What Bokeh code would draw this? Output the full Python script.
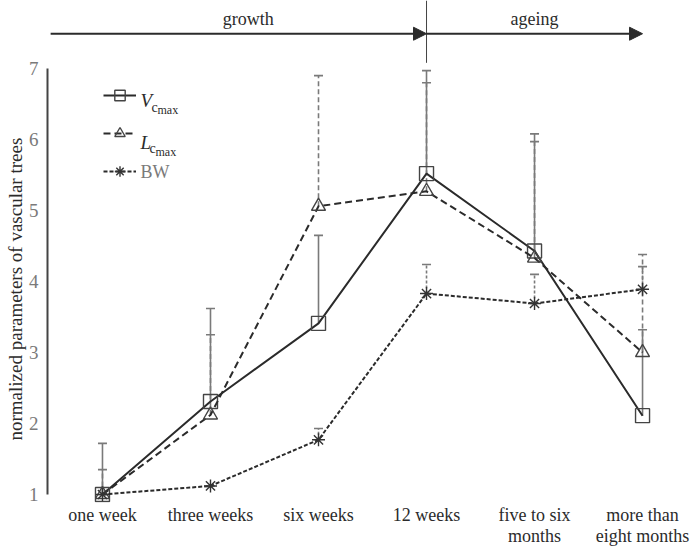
from bokeh.plotting import figure
from bokeh.models import (FixedTicker, Whisker, TeeHead, Legend, LegendItem, Label,
                          Arrow, NormalHead, Range1d, ColumnDataSource, Title)
from bokeh.embed import file_html
from bokeh.resources import INLINE

# ---------------- data ----------------
categories = ["one week", "three weeks", "six weeks", "12 weeks",
              "five to six\nmonths", "more than\neight months"]
xpos = [0, 1, 2, 3, 4, 5]
vcmax = [1.0, 2.31, 3.41, 5.52, 4.43, 2.11]
vcmax_upper = [1.72, 3.62, 4.65, 6.97, 6.08, 3.32]
lcmax = [1.0, 2.12, 5.06, 5.27, 4.33, 3.00]
lcmax_upper = [1.35, 3.25, 6.90, 6.80, 5.97, 4.38]
bw = [1.0, 1.12, 1.77, 3.83, 3.69, 3.89]
bw_upper = [1.0, 1.12, 1.93, 4.24, 4.10, 4.21]
yticks = [1, 2, 3, 4, 5, 6, 7]
phase_labels = ["growth", "ageing"]
y_title = "normalized parameters of vascular trees"

FONT = "'Liberation Serif', 'Times New Roman', serif"
DARK = "#2b2b2b"
GREY = "#7a7a7a"

p = figure(width=694, height=548, output_backend="svg", toolbar_location=None,
           x_range=Range1d(-0.509, 5.481), y_range=Range1d(0.887, 7.958),
           min_border_top=0, min_border_left=47, min_border_right=0, min_border_bottom=0)
p.outline_line_color = None
p.grid.visible = False
p.background_fill_color = "white"

# axes
p.xaxis.ticker = FixedTicker(ticks=xpos)
p.xaxis.major_label_overrides = {x: c for x, c in zip(xpos, categories)}
p.xaxis.axis_line_color = None
p.xaxis.major_tick_line_color = None
p.xaxis.minor_tick_line_color = None
p.xaxis.major_tick_out = 0
p.xaxis.major_label_text_font = FONT
p.xaxis.major_label_text_font_size = "18px"
p.xaxis.major_label_text_line_height = 1.05
p.xaxis.major_label_text_color = DARK
p.xaxis.major_label_standoff = 2

p.yaxis.ticker = FixedTicker(ticks=yticks)
p.yaxis.bounds = (1, 7)
p.yaxis.axis_line_color = "#444444"
p.yaxis.axis_line_width = 2
p.yaxis.major_tick_line_color = None
p.yaxis.minor_tick_line_color = None
p.yaxis.major_tick_out = 0
p.yaxis.major_label_text_font = FONT
p.yaxis.major_label_text_font_size = "19px"
p.yaxis.major_label_text_color = GREY
p.yaxis.major_label_standoff = 9

# y axis title as a left-side title
p.add_layout(Title(text=y_title, align="left", offset=62, text_font=FONT,
                   text_font_size="19px", text_font_style="normal",
                   text_color=DARK, standoff=0), "left")

# error bars
src = ColumnDataSource(dict(x=xpos, v=vcmax, vu=vcmax_upper, l=lcmax, lu=lcmax_upper,
                            b=bw, bu=bw_upper))
for lo, up, dash in [("b", "bu", "3 2"), ("l", "lu", "5 3"), ("v", "vu", "solid")]:
    w = Whisker(source=src, base="x", lower=lo, upper=up, line_color=GREY,
                line_width=1.6, line_dash=dash,
                upper_head=TeeHead(size=9, line_color=GREY, line_width=1.6),
                lower_head=None)
    p.add_layout(w)

# series
lv = p.line(xpos, vcmax, line_color=DARK, line_width=2)
sv = p.scatter(xpos, vcmax, marker="square", size=14, fill_color=None,
               line_color="#444444", line_width=1.4)
ll = p.line(xpos, lcmax, line_color=DARK, line_width=2, line_dash="7 4")
sl = p.scatter(xpos, lcmax, marker="triangle", size=14, fill_color=None,
               line_color="#444444", line_width=1.4)
lb = p.line(xpos, bw, line_color=DARK, line_width=2, line_dash="4 2")
sb = p.scatter(xpos, bw, marker="asterisk", size=13, line_color="#333333", line_width=1.4)

legend = Legend(items=[LegendItem(label=" ", renderers=[lv, sv]),
                       LegendItem(label=" ", renderers=[ll, sl]),
                       LegendItem(label=" ", renderers=[lb, sb])],
                location=(56, 318), glyph_width=33, glyph_height=26, label_height=26,
                spacing=12, padding=0, margin=0, border_line_color=None,
                background_fill_alpha=0, label_text_font_size="10px")
p.add_layout(legend)

def lab(text, x, y, size, style="normal", color=DARK):
    p.add_layout(Label(x=x, y=y, x_units="screen", y_units="screen", text=text,
                       text_font=FONT, text_font_size=size, text_font_style=style,
                       text_color=color, text_baseline="alphabetic"))

lab("V", 93, 402, "19px", "italic")
lab("c", 104, 395, "14px")
lab("max", 110, 393, "12px")
lab("L", 93, 360, "19px", "italic")
lab("c", 102, 354, "14px")
lab("max", 108, 351, "12px")
lab("BW", 93, 331, "18px", color=GREY)

# growth / ageing arrows
p.add_layout(Arrow(x_start=-0.48, y_start=7.49, x_end=3, y_end=7.49,
                   line_color=DARK, line_width=2,
                   end=NormalHead(size=13, fill_color=DARK, line_color=DARK)))
p.add_layout(Arrow(x_start=3, y_start=7.49, x_end=5, y_end=7.49,
                   line_color=DARK, line_width=2,
                   end=NormalHead(size=13, fill_color=DARK, line_color=DARK)))
p.segment(x0=[3], y0=[7.958], x1=[3], y1=[7.08], line_color="#444444", line_width=1)
for txt, xc in zip(phase_labels, [1.35, 4.0]):
    p.add_layout(Label(x=xc, y=7.70, text=txt, text_font=FONT, text_font_size="18px",
                       text_color=DARK, text_align="center", text_baseline="alphabetic"))

open("out.html", "w").write(file_html(p, INLINE))
